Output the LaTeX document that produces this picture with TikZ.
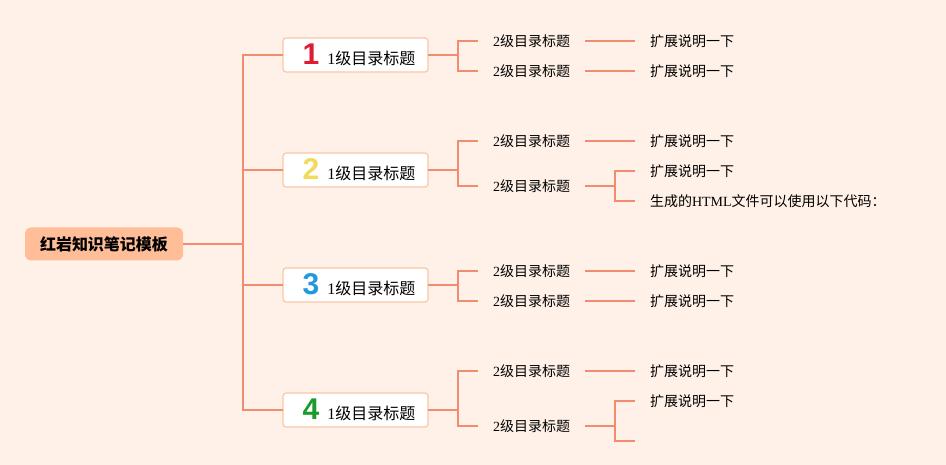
\documentclass[tikz,border=0pt]{standalone}
\usepackage{fontspec}
\setmainfont{Liberation Serif}
\newfontfamily\zh{Noto Sans CJK SC}
\newfontfamily\numfont{Liberation Sans}
\usetikzlibrary{positioning,calc}
\definecolor{bgPeach}{RGB}{255,241,232}
\definecolor{linkSalmon}{RGB}{241,140,112}
\definecolor{rootPeach}{RGB}{255,190,152}
\definecolor{boxEdge}{RGB}{249,198,166}
\definecolor{numRed}{RGB}{222,30,48}
\definecolor{numYellow}{RGB}{242,218,90}
\definecolor{numBlue}{RGB}{36,152,222}
\definecolor{numGreen}{RGB}{28,154,44}
\newcommand\topicnum[2]{\hspace*{7pt}{\numfont\bfseries\fontsize{30}{30}\selectfont\color{#1}#2}\hspace{8pt}}

\begin{document}
\begin{tikzpicture}[x=1pt, y=-1pt,
    every node/.style={inner sep=0pt, outer sep=0pt},
    link/.style={draw=linkSalmon, line width=1.6pt},
    root/.style={fill=rootPeach, rounded corners=6pt, minimum width=158pt,
      minimum height=33pt, font=\fontsize{16}{16}\selectfont\zh\bfseries},
    topic/.style={draw=boxEdge, line width=1.2pt, fill=white, rounded corners=3pt,
      minimum width=145pt, minimum height=34pt, font=\fontsize{16}{16}\selectfont},
    sub/.style={anchor=west, inner xsep=15pt, font=\fontsize{14}{14}\selectfont},
    note/.style={anchor=west, inner xsep=15pt, font=\fontsize{14}{14}\selectfont}
  ]
    \fill[bgPeach] (0,0) rectangle (946,465);
    % Root
    \node[root] (root) at (104,244) {红岩知识笔记模板};
    \coordinate (trunk) at (243,244);
    % Level 1
    \node[topic] (l1) at (355.5,55) {\topicnum{numRed}{1}1{\zh 级目录标题}};
    \node[topic] (l2) at (355.5,170) {\topicnum{numYellow}{2}1{\zh 级目录标题}};
    \node[topic] (l3) at (355.5,285) {\topicnum{numBlue}{3}1{\zh 级目录标题}};
    \node[topic] (l4) at (355.5,410) {\topicnum{numGreen}{4}1{\zh 级目录标题}};
    % Level 2
    \node[sub] (s11) at (478,41) {2{\zh 级目录标题}};
    \node[sub] (s12) at (478,71) {2{\zh 级目录标题}};
    \node[sub] (s21) at (478,141) {2{\zh 级目录标题}};
    \node[sub] (s22) at (478,186) {2{\zh 级目录标题}};
    \node[sub] (s31) at (478,271) {2{\zh 级目录标题}};
    \node[sub] (s32) at (478,301) {2{\zh 级目录标题}};
    \node[sub] (s41) at (478,371) {2{\zh 级目录标题}};
    \node[sub] (s42) at (478,426) {2{\zh 级目录标题}};
    % Level 3
    \node[note] (t11) at (635,41) {\zh 扩展说明一下};
    \node[note] (t12) at (635,71) {\zh 扩展说明一下};
    \node[note] (t21) at (635,141) {\zh 扩展说明一下};
    \node[note] (t22a) at (635,171) {\zh 扩展说明一下};
    \node[note] (t22b) at (635,201) {{\zh 生成的}HTML{\zh 文件可以使用以下代码：}};
    \node[note] (t31) at (635,271) {\zh 扩展说明一下};
    \node[note] (t32) at (635,301) {\zh 扩展说明一下};
    \node[note] (t41) at (635,371) {\zh 扩展说明一下};
    \node[note] (t42a) at (635,401) {\zh 扩展说明一下};
    \coordinate (t42b) at (635,441);
    % Trunk
    \draw[link] (root.east) -- (trunk);
    \draw[link] (trunk) |- (l1.west);
    \draw[link] (trunk) |- (l2.west);
    \draw[link] (trunk) |- (l3.west);
    \draw[link] (trunk) |- (l4.west);
    % Brackets to level 2
    \draw[link] (l1.east) -- ++(30,0) |- (s11.west);
    \draw[link] (l1.east) -- ++(30,0) |- (s12.west);
    \draw[link] (l2.east) -- ++(30,0) |- (s21.west);
    \draw[link] (l2.east) -- ++(30,0) |- (s22.west);
    \draw[link] (l3.east) -- ++(30,0) |- (s31.west);
    \draw[link] (l3.east) -- ++(30,0) |- (s32.west);
    \draw[link] (l4.east) -- ++(30,0) |- (s41.west);
    \draw[link] (l4.east) -- ++(30,0) |- (s42.west);
    % Level 3 links
    \draw[link] (s11.east) -- (t11.west);
    \draw[link] (s12.east) -- (t12.west);
    \draw[link] (s21.east) -- (t21.west);
    \draw[link] (s22.east) -- ++(30,0) |- (t22a.west);
    \draw[link] (s22.east) -- ++(30,0) |- (t22b.west);
    \draw[link] (s31.east) -- (t31.west);
    \draw[link] (s32.east) -- (t32.west);
    \draw[link] (s41.east) -- (t41.west);
    \draw[link] (s42.east) -- ++(30,0) |- (t42a.west);
    \draw[link] (s42.east) -- ++(30,0) |- (t42b);
  \end{tikzpicture}
\end{document}
